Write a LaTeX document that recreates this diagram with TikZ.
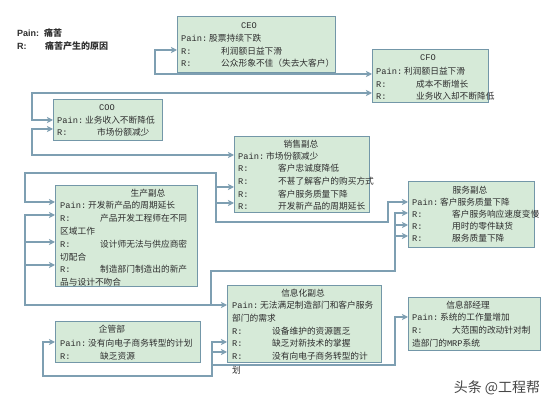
\documentclass[tikz,border=0pt]{standalone}
\usepackage{fontspec}
\setmainfont{Noto Sans CJK SC}
\newfontfamily\lat{Liberation Mono}
\newfontfamily\latb{Liberation Sans}
\usetikzlibrary{arrows.meta}
\definecolor{boxfill}{HTML}{D6EAD8}
\definecolor{boxline}{HTML}{7397A8}
\definecolor{connc}{HTML}{7E9FB2}
\definecolor{txtc}{HTML}{2E2E2E}
\newcommand\painl[1]{\makebox[28pt][l]{\lat Pain:}#1}
\newcommand\reasl[1]{\makebox[40pt][l]{\lat R:}#1}
\tikzset{
  box/.style={draw=boxline, fill=boxfill, line width=1.4pt, anchor=north west, inner sep=0pt},
  txt/.style={anchor=west, inner sep=0pt, text=txtc, font=\fontsize{8.7}{10}\selectfont, text height=7pt, text depth=2pt},
  ttl/.style={txt, anchor=center},
  leg/.style={anchor=west, inner sep=0pt, text=txtc, font=\fontsize{9}{10}\selectfont\bfseries, text height=7pt, text depth=2pt},
  conn/.style={draw=connc, line width=1.8pt},
  tip/.style={arrows={-Stealth[length=6pt,width=6pt,inset=1.5pt]}},
  tips/.style={arrows={Stealth[length=6pt,width=6pt,inset=1.5pt]-Stealth[length=6pt,width=6pt,inset=1.5pt]}},
}
\begin{document}
\begin{tikzpicture}[x=1pt,y=-1pt]
\fill[white] (0,0) rectangle (550,406);
\useasboundingbox (0,0) rectangle (550,406);

% legend
\node[leg] (lgp) at (17,34) {\latb Pain:};
\node[leg] (lgp2) at (44,34) {痛苦};
\node[leg] (lgr) at (17,47) {\latb R:};
\node[leg] (lgr2) at (45,47) {痛苦产生的原因};

% boxes
\node[box, minimum width=158pt, minimum height=56pt] (ceo) at (177,16) {};
\node[box, minimum width=116pt, minimum height=53pt] (cfo) at (372,49) {};
\node[box, minimum width=109pt, minimum height=41pt] (coo) at (53,99) {};
\node[box, minimum width=135pt, minimum height=76pt] (sales) at (234,136) {};
\node[box, minimum width=142pt, minimum height=101pt] (prod) at (55,185) {};
\node[box, minimum width=126pt, minimum height=66pt] (serv) at (408,181) {};
\node[box, minimum width=154pt, minimum height=77pt] (info) at (227,285) {};
\node[box, minimum width=145pt, minimum height=41pt] (mgmt) at (55,321) {};
\node[box, minimum width=132pt, minimum height=53pt] (imgr) at (408,297) {};

% connectors
\draw[conn,tips] (ceo.west |- 0,50) -| (155,74) -- (cfo.west |- 0,74);
\draw[conn,tips] (cfo.west |- 0,93) -| (32,120) -- (coo.west |- 0,120);
\draw[conn,tips] (coo.west |- 0,129) -| (32,155) -- (sales.west |- 0,155);
\draw[conn,tips] (prod.west |- 0,202) -| (25,173) -| (216,203) -- (sales.west |- 0,203);
\draw[conn,tips] (sales.west |- 0,187) -| (216,222) -| (388,202) -- (serv.west |- 0,202);

\coordinate (jA) at (25,305);
\coordinate (jB) at (211,305);
\coordinate (jC) at (395,271);
\draw[conn,tips] (prod.west |- 0,215) -| (jA) -- (info.west |- jA);
\draw[conn,tip] (jA |- 0,242) -- (prod.west |- 0,242);
\draw[conn,tip] (jA |- 0,265) -- (prod.west |- 0,265);
\draw[conn,tip] (jB) |- (jC) |- (serv.west |- 0,213);
\draw[conn,tip] (jC |- 0,225) -- (serv.west |- 0,225);
\draw[conn,tip] (jC |- 0,236) -- (serv.west |- 0,236);

\coordinate (jD) at (212,376);
\draw[conn,tips] (info.west |- 0,342) -| (jD) -| (43,342) -- (mgmt.west |- 0,342);
\draw[conn,tip] (jD |- 0,352) -- (info.west |- 0,352);
\draw[conn,tip] (jD |- 0,365) -| (395,317) -- (imgr.west |- 0,317);

% CEO
\node[ttl] (ceot) at (249,26) {\lat CEO};
\node[txt] (ceop) at (181,39) {\painl{股票持续下跌}};
\node[txt] (ceor1) at (181,52) {\reasl{利润额日益下滑}};
\node[txt] (ceor2) at (181,64) {\reasl{公众形象不佳（失去大客户）}};
% CFO
\node[ttl] (cfot) at (428,58) {\lat CFO};
\node[txt] (cfop) at (376,72) {\painl{利润额日益下滑}};
\node[txt] (cfor1) at (376,85) {\reasl{成本不断增长}};
\node[txt] (cfor2) at (376,97) {\reasl{业务收入却不断降低}};
% COO
\node[ttl] (coot) at (107,108) {\lat COO};
\node[txt] (coop) at (57,121) {\painl{业务收入不断降低}};
\node[txt] (coor1) at (57,133) {\reasl{市场份额减少}};
% sales
\node[ttl] (salest) at (301,145) {销售副总};
\node[txt] (salesp) at (238,157) {\painl{市场份额减少}};
\node[txt] (salesr1) at (238,169) {\reasl{客户忠诚度降低}};
\node[txt] (salesr2) at (238,182) {\reasl{不甚了解客户的购买方式}};
\node[txt] (salesr3) at (238,195) {\reasl{客户服务质量下降}};
\node[txt] (salesr4) at (238,207) {\reasl{开发新产品的周期延长}};
% production
\node[ttl] (prodt) at (148,194) {生产副总};
\node[txt] (prodp) at (60,206) {\painl{开发新产品的周期延长}};
\node[txt] (prodr1) at (60,219) {\reasl{产品开发工程师在不同}};
\node[txt] (prodr1b) at (60,232) {区域工作};
\node[txt] (prodr2) at (60,245) {\reasl{设计师无法与供应商密}};
\node[txt] (prodr2b) at (60,258) {切配合};
\node[txt] (prodr3) at (60,270) {\reasl{制造部门制造出的新产}};
\node[txt] (prodr3b) at (60,283) {品与设计不吻合};
% service
\node[ttl] (servt) at (470,191) {服务副总};
\node[txt] (servp) at (412,203) {\painl{客户服务质量下降}};
\node[txt] (servr1) at (412,215) {\reasl{客户服务响应速度变慢}};
\node[txt] (servr2) at (412,227) {\reasl{用时的零件缺货}};
\node[txt] (servr3) at (412,239) {\reasl{服务质量下降}};
% info VP
\node[ttl] (infot) at (303,294) {信息化副总};
\node[txt] (infop) at (232,306) {\painl{无法满足制造部门和客户服务}};
\node[txt] (infopb) at (232,319) {部门的需求};
\node[txt] (infor1) at (232,332) {\reasl{设备维护的资源匮乏}};
\node[txt] (infor2) at (232,344) {\reasl{缺乏对新技术的掌握}};
\node[txt] (infor3) at (232,357) {\reasl{没有向电子商务转型的计}};
\node[txt] (infor3b) at (232,371) {划};
% management
\node[ttl] (mgmtt) at (112,330) {企管部};
\node[txt] (mgmtp) at (60,344) {\painl{没有向电子商务转型的计划}};
\node[txt] (mgmtr1) at (60,357) {\reasl{缺乏资源}};
% info manager
\node[ttl] (imgrt) at (468,306) {信息部经理};
\node[txt] (imgrp) at (412,318) {\painl{系统的工作量增加}};
\node[txt] (imgrr1) at (412,331) {\reasl{大范围的改动针对制}};
\node[txt] (imgrr1b) at (412,344) {造部门的{\lat MRP}系统};

% watermark
\node[inner sep=0pt, text=black!72, font=\fontsize{14}{16}\selectfont] (wm) at (497,388) {头条 @工程帮};
\end{tikzpicture}
\end{document}
